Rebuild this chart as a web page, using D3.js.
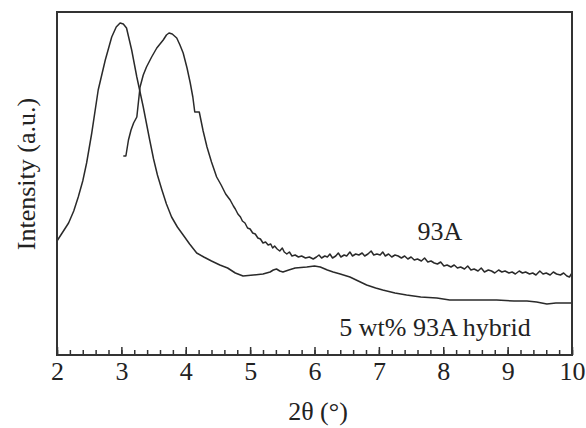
<!DOCTYPE html>
<html>
<head>
<meta charset="utf-8">
<script src="https://cdn.jsdelivr.net/npm/d3@7"></script>
<style>
  body { margin: 0; background: #fff; }
  text { font-family: "Liberation Serif", "Times New Roman", serif; fill: #222; }
</style>
</head>
<body>
<div id="chart"></div>
<script>
const width = 586;
const height = 428;
const margin = { top: 12, right: 14, bottom: 73, left: 57 };

// 2θ ticks
const majorTicks = [2, 3, 4, 5, 6, 7, 8, 9, 10];
const minorTicks = d3.range(2, 10.001, 0.2);

// 5 wt% 93A hybrid (2θ, intensity a.u.)
const hybrid = [
  [2.00, 114], [2.08, 122], [2.18, 132], [2.26, 144], [2.33, 158], [2.40, 174], [2.46, 192],
  [2.54, 222], [2.64, 265], [2.75, 295], [2.85, 318], [2.92, 328], [2.98, 332],
  [3.03, 331], [3.08, 327], [3.16, 305], [3.24, 278], [3.34, 248], [3.44, 215],
  [3.50, 196], [3.56, 180], [3.63, 165], [3.70, 151], [3.78, 138], [3.87, 128],
  [3.96, 120], [4.06, 111], [4.17, 102], [4.28, 98], [4.40, 94], [4.53, 90],
  [4.65, 87], [4.77, 82], [4.89, 79], [5.05, 80], [5.20, 81], [5.31, 83],
  [5.36, 85], [5.41, 86], [5.46, 84], [5.51, 83], [5.60, 85], [5.70, 87],
  [5.88, 88], [6.00, 89], [6.09, 88], [6.20, 85], [6.29, 83], [6.40, 81],
  [6.55, 78], [6.68, 74], [6.81, 70], [6.95, 67], [7.06, 65], [7.25, 62],
  [7.43, 60], [7.65, 58], [7.90, 57], [8.10, 55], [8.31, 55], [8.55, 55],
  [8.83, 55], [9.10, 54], [9.30, 54], [9.45, 53], [9.61, 51], [9.75, 52], [10.00, 52]
];

// 93A (2θ, intensity a.u.)
const clay93A = [
  [3.03, 199], [3.07, 199], [3.11, 215], [3.15, 225], [3.19, 232], [3.24, 238],
  [3.29, 268], [3.34, 280], [3.39, 288], [3.47, 298], [3.55, 307], [3.60, 311],
  [3.65, 315], [3.70, 320], [3.74, 322], [3.79, 321], [3.86, 317], [3.91, 310],
  [3.96, 302], [4.02, 287], [4.07, 272], [4.11, 258], [4.14, 243], [4.21, 243],
  [4.27, 224], [4.33, 208], [4.40, 193], [4.48, 178], [4.55, 170], [4.62, 161],
  [4.69, 155], [4.74, 149], [4.77, 146], [4.81, 141], [4.85, 138], [4.88, 134],
  [4.92, 132], [4.96, 127], [5.00, 126], [5.04, 122], [5.08, 121], [5.12, 117],
  [5.16, 116], [5.20, 112], [5.24, 113], [5.28, 110], [5.32, 111], [5.35, 107],
  [5.38, 109], [5.42, 106], [5.46, 104], [5.50, 107], [5.53, 103], [5.57, 101],
  [5.61, 103], [5.65, 99], [5.70, 100], [5.75, 98], [5.80, 99], [5.86, 97],
  [5.92, 98], [5.98, 96], [6.03, 98], [6.07, 100], [6.11, 97], [6.16, 99],
  [6.20, 98], [6.24, 101], [6.28, 97], [6.33, 99], [6.37, 102], [6.41, 98],
  [6.46, 100], [6.50, 99], [6.55, 103], [6.59, 99], [6.64, 101], [6.69, 100],
  [6.74, 102], [6.78, 99], [6.83, 101], [6.88, 104], [6.92, 100], [6.97, 101],
  [7.02, 100], [7.06, 103], [7.10, 99], [7.15, 101], [7.20, 98], [7.25, 100],
  [7.30, 99], [7.35, 97], [7.40, 99], [7.45, 96], [7.50, 98], [7.55, 95],
  [7.60, 96], [7.66, 94], [7.71, 97], [7.76, 93], [7.81, 94], [7.86, 92],
  [7.91, 91], [7.96, 93], [8.01, 89], [8.06, 90], [8.12, 88], [8.17, 90],
  [8.22, 87], [8.27, 88], [8.33, 86], [8.38, 89], [8.43, 85], [8.48, 86],
  [8.54, 84], [8.59, 87], [8.64, 83], [8.70, 85], [8.75, 84], [8.80, 82],
  [8.86, 85], [8.91, 83], [8.96, 84], [9.02, 82], [9.07, 83], [9.12, 81],
  [9.18, 84], [9.23, 82], [9.28, 83], [9.34, 81], [9.39, 82], [9.44, 80],
  [9.50, 84], [9.55, 81], [9.60, 82], [9.66, 80], [9.71, 83], [9.76, 81],
  [9.82, 80], [9.87, 82], [9.92, 79], [9.96, 78], [10.00, 82]
];

const innerW = width - margin.left - margin.right;
const innerH = height - margin.top - margin.bottom;

const svg = d3.select("#chart")
  .append("svg")
  .attr("width", width)
  .attr("height", height);

const g = svg.append("g")
  .attr("transform", `translate(${margin.left},${margin.top})`);

const x = d3.scaleLinear().domain([2, 10]).range([0, innerW]);
const y = d3.scaleLinear().domain([0, innerH]).range([innerH, 0]);

const line = d3.line()
  .x(d => x(d[0]))
  .y(d => y(d[1]));

// curves
[hybrid, clay93A].forEach(series => {
  g.append("path")
    .datum(series)
    .attr("fill", "none")
    .attr("stroke", "#2a2a2a")
    .attr("stroke-width", 1.5)
    .attr("stroke-linejoin", "round")
    .attr("d", line);
});

// minor ticks (inward)
g.append("g")
  .attr("transform", `translate(0,${innerH})`)
  .call(d3.axisBottom(x).tickValues(minorTicks).tickSize(-5).tickFormat(""))
  .call(a => a.select(".domain").remove())
  .call(a => a.selectAll("line").attr("stroke", "#333").attr("stroke-width", 1.5));

// major ticks + labels
g.append("g")
  .attr("transform", `translate(0,${innerH})`)
  .call(d3.axisBottom(x).tickValues(majorTicks).tickSizeInner(-8).tickSizeOuter(0).tickPadding(7).tickFormat(d3.format("d")))
  .call(a => a.select(".domain").remove())
  .call(a => a.selectAll("line").attr("stroke", "#333").attr("stroke-width", 1.5))
  .call(a => a.selectAll("text")
    .attr("fill", "#222")
    .style("font-family", "'Liberation Serif', serif")
    .style("font-size", "26px"));

// frame
g.append("rect")
  .attr("width", innerW)
  .attr("height", innerH)
  .attr("fill", "none")
  .attr("stroke", "#333")
  .attr("stroke-width", 2);

// labels
svg.append("text")
  .attr("x", 318)
  .attr("y", 420)
  .attr("text-anchor", "middle")
  .style("font-size", "26px")
  .text("2θ (°)");

svg.append("text")
  .attr("transform", `translate(35,174) rotate(-90)`)
  .attr("text-anchor", "middle")
  .style("font-size", "26px")
  .text("Intensity (a.u.)");

svg.append("text")
  .attr("x", 440)
  .attr("y", 240)
  .attr("text-anchor", "middle")
  .style("font-size", "26px")
  .text("93A");

svg.append("text")
  .attr("x", 435)
  .attr("y", 336)
  .attr("text-anchor", "middle")
  .style("font-size", "26px")
  .text("5 wt% 93A hybrid");
</script>
</body>
</html>
